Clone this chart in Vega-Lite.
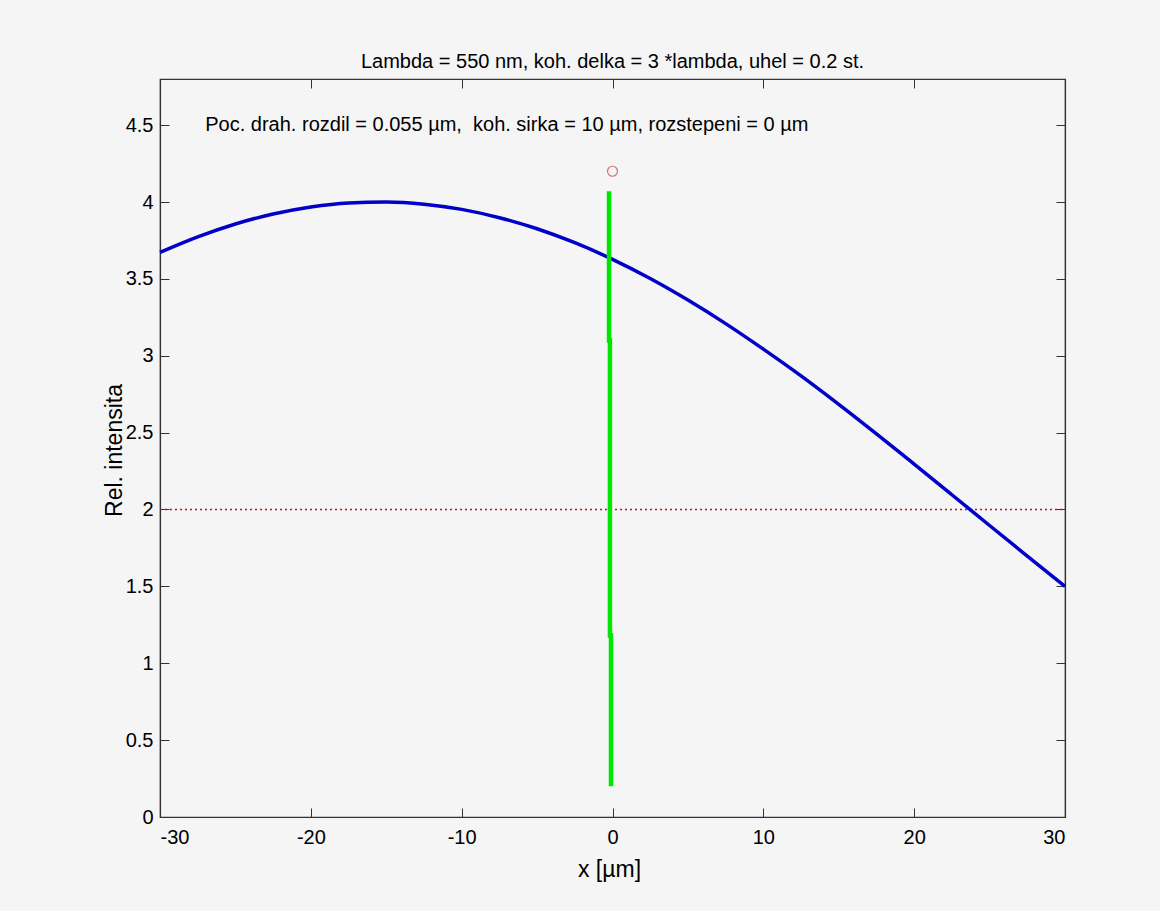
{
  "$schema": "https://vega.github.io/schema/vega-lite/v6.json",
  "autosize": "none",
  "width": 905,
  "height": 738,
  "padding": {"left": 160, "top": 79, "right": 95, "bottom": 94},
  "background": "#f5f5f5",
  "config": {
    "view": {"stroke": "#333333", "strokeWidth": 1.2, "fill": "#f5f5f5"},
    "font": "Liberation Sans",
    "axis": {"labelFont": "Liberation Sans", "titleFont": "Liberation Sans", "labelColor": "#000000", "titleColor": "#000000", "domainColor": "#333333", "tickColor": "#333333", "grid": false, "labelFontSize": 20, "titleFontSize": 23, "titleFontWeight": "normal", "tickSize": -9, "domainWidth": 1.2, "tickWidth": 1, "labelExpr": "toString(datum.value)"}
  },
  "title": {"text": "Lambda = 550 nm, koh. delka = 3 *lambda, uhel = 0.2 st.", "font": "Liberation Sans", "fontSize": 20, "fontWeight": "normal", "color": "#000000", "anchor": "middle", "offset": 7},
  "datasets": {
    "curve": [
      {"x": -30, "y": 3.672}, {"x": -27.5, "y": 3.773}, {"x": -25, "y": 3.857}, {"x": -22.5, "y": 3.922},
      {"x": -20, "y": 3.968}, {"x": -17.5, "y": 3.994}, {"x": -15, "y": 4.0}, {"x": -12.5, "y": 3.986},
      {"x": -10, "y": 3.952}, {"x": -7.5, "y": 3.898}, {"x": -5, "y": 3.826}, {"x": -2.5, "y": 3.735},
      {"x": 0, "y": 3.627}, {"x": 2.5, "y": 3.502}, {"x": 5, "y": 3.362}, {"x": 7.5, "y": 3.209},
      {"x": 10, "y": 3.043}, {"x": 12.5, "y": 2.869}, {"x": 15, "y": 2.684}, {"x": 17.5, "y": 2.492},
      {"x": 20, "y": 2.295}, {"x": 22.5, "y": 2.096}, {"x": 25, "y": 1.896}, {"x": 27.5, "y": 1.697},
      {"x": 30, "y": 1.5}
    ],
    "green": [
      {"o": 1, "x": -0.23, "y": 4.07}, {"o": 2, "x": -0.23, "y": 3.1}, {"o": 3, "x": -0.17, "y": 3.1},
      {"o": 4, "x": -0.17, "y": 1.18}, {"o": 5, "x": -0.1, "y": 1.18}, {"o": 6, "x": -0.1, "y": 0.2}
    ],
    "level": [{"x": -30, "y": 2}, {"x": 30, "y": 2}],
    "point": [{"x": 0, "y": 4.2}],
    "note": [{"x": -27, "y": 4.5, "t": "Poc. drah. rozdil = 0.055 µm,\u00a0 koh. sirka = 10 µm, rozstepeni = 0 µm"}]
  },
  "layer": [
    {
      "data": {"name": "level"},
      "mark": {"type": "line", "color": "#b01c1c", "strokeWidth": 1.5, "strokeDash": [2, 3]},
      "encoding": {
        "x": {"field": "x", "type": "quantitative", "scale": {"domain": [-30, 30], "nice": false, "zero": false},
              "axis": {"orient": "bottom", "values": [-30, -20, -10, 0, 10, 20, 30], "title": "x [µm]", "labelPadding": 19, "titleX": 449, "titleY": 52, "titleBaseline": "middle", "titleAnchor": "middle"}},
        "y": {"field": "y", "type": "quantitative", "scale": {"domain": [0, 4.8], "nice": false, "zero": false},
              "axis": {"orient": "left", "values": [0, 0.5, 1, 1.5, 2, 2.5, 3, 3.5, 4, 4.5], "title": "Rel. intensita", "labelPadding": 16, "titleX": -46, "titleY": 371, "titleAngle": -90, "titleBaseline": "middle", "titleAlign": "center"}}
      }
    },
    {
      "data": {"name": "curve"},
      "mark": {"type": "line", "color": "#0000c8", "strokeWidth": 3.5, "interpolate": "monotone"},
      "encoding": {
        "x": {"field": "x", "type": "quantitative", "axis": {"orient": "top", "values": [-30, -20, -10, 0, 10, 20, 30], "labels": false, "title": null}},
        "y": {"field": "y", "type": "quantitative", "axis": {"orient": "right", "values": [0, 0.5, 1, 1.5, 2, 2.5, 3, 3.5, 4, 4.5], "labels": false, "title": null}}
      }
    },
    {
      "data": {"name": "green"},
      "mark": {"type": "line", "color": "#00e600", "strokeWidth": 4.5},
      "encoding": {
        "x": {"field": "x", "type": "quantitative", "axis": null},
        "y": {"field": "y", "type": "quantitative", "axis": null},
        "order": {"field": "o", "type": "quantitative"}
      }
    },
    {
      "data": {"name": "point"},
      "mark": {"type": "point", "shape": "circle", "filled": false, "color": "#c04040", "strokeWidth": 1.2, "size": 100},
      "encoding": {
        "x": {"field": "x", "type": "quantitative", "axis": null},
        "y": {"field": "y", "type": "quantitative", "axis": null}
      }
    },
    {
      "data": {"name": "note"},
      "mark": {"type": "text", "align": "left", "baseline": "middle", "fontSize": 20, "font": "Liberation Sans", "color": "#000000"},
      "encoding": {
        "x": {"field": "x", "type": "quantitative", "axis": null},
        "y": {"field": "y", "type": "quantitative", "axis": null},
        "text": {"field": "t", "type": "nominal"}
      }
    }
  ],
  "resolve": {"axis": {"x": "independent", "y": "independent"}}
}
